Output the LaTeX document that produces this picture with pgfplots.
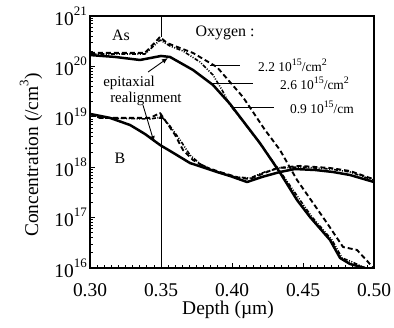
\documentclass[border=0pt]{standalone}
\usepackage{fontspec}
\setmainfont{Liberation Serif}
\usepackage{pgfplots}
\pgfplotsset{compat=1.18}
\usetikzlibrary{arrows.meta}
\newcommand{\sups}[1]{\raisebox{0.5em}{\fontsize{13}{13}\selectfont #1}}
\newcommand{\lsup}[1]{\raisebox{0.45em}{\fontsize{10}{10}\selectfont #1}}

\begin{document}
\begin{tikzpicture}[font=\fontsize{19.5}{22}\selectfont]
\begin{axis}[
 scale only axis, width=284bp, height=252bp,
 xmin=0.3, xmax=0.5, ymin=1e16, ymax=1e21, ymode=log,
 axis line style={line width=1.3pt},
 xtick={0.30,0.35,0.40,0.45,0.50},
 xticklabels={0.30,0.35,0.40,0.45,0.50},
 minor x tick num=9,
 ytick={1e16,1e17,1e18,1e19,1e20,1e21},
 yticklabels={10\sups{16},10\sups{17},10\sups{18},10\sups{19},10\sups{20},10\sups{21}},
 xtick pos=bottom, ytick pos=left, tick align=inside,
 major tick length=5bp, minor tick length=3bp,
 tick style={line width=0.8pt,black},
 xticklabel style={anchor=base, yshift=-29bp, inner sep=0pt},
 yticklabel style={anchor=east, xshift=-3bp, inner sep=0pt},
 xlabel={Depth (µm)}, ylabel={Concentration (/cm\sups{3})},
 xlabel style={at={(axis description cs:0.486,-0.1865)}, anchor=base, inner sep=0pt},
 ylabel style={at={(axis description cs:-0.183,0.448)}, anchor=base, inner sep=0pt},
 clip mode=individual,
 every axis plot/.append style={line join=round, black},
]
% As, solid
\addplot[line width=2.5pt] coordinates {
(0.3000,1.68e20)(0.3176,1.54e20)(0.3352,1.34e20)(0.3500,1.61e20)(0.3563,1.54e20)
(0.3725,8.5e19)(0.3866,4.28e19)(0.3986,1.8e19)(0.4197,3.0e18)(0.4338,7.8e17)
(0.4458,2.23e17)(0.4549,1.03e17)(0.4690,3.6e16)(0.4761,1.58e16)(0.4831,1.2e16)(0.4937,1.0e16)};
% As, dashed
\addplot[line width=1.9pt, dash pattern=on 5pt off 3pt] coordinates {
(0.3000,1.85e20)(0.3387,1.85e20)(0.3493,3.83e20)(0.3542,2.91e20)(0.3725,1.85e20)
(0.3894,9.7e19)(0.4077,2.47e19)(0.4232,5.5e18)(0.4338,2.19e18)(0.4458,5.57e17)
(0.4669,7.8e16)(0.4782,2.61e16)(0.4880,2.28e16)(0.4958,1.32e16)(0.4993,1.0e16)};
% As, dash-dot
\addplot[line width=1.6pt, dash pattern=on 4pt off 1.5pt on 1pt off 1.5pt on 1pt off 1.5pt] coordinates {
(0.3000,1.76e20)(0.3387,1.76e20)(0.3493,3.34e20)(0.3563,2.54e20)(0.3655,2.02e20)
(0.3775,1.22e20)(0.3866,6.75e19)(0.3930,3.40e19)(0.3986,1.71e19)(0.4070,8.6e18)
(0.4211,2.6e18)(0.4352,7.3e17)(0.4479,2.23e17)(0.4563,1.03e17)(0.4704,3.6e16)
(0.4775,1.58e16)(0.4845,1.32e16)(0.4937,1.0e16)};
% B, solid
\addplot[line width=2.5pt] coordinates {
(0.3000,1.14e19)(0.3141,9.5e18)(0.3282,6.87e18)(0.3387,4.56e18)(0.3493,2.76e18)
(0.3599,1.83e18)(0.3704,1.21e18)(0.3810,9.64e17)(0.3894,8.03e17)(0.3986,6.69e17)
(0.4106,5.08e17)(0.4211,6.40e17)(0.4338,8.03e17)(0.4444,9.2e17)(0.4585,8.8e17)
(0.4711,8.03e17)(0.4831,7.0e17)(0.5000,5.08e17)};
% B, dashed
\addplot[line width=1.9pt, dash pattern=on 5pt off 3pt] coordinates {
(0.3000,1.14e19)(0.3070,9.5e18)(0.3423,9.5e18)(0.3493,1.19e19)(0.3542,7.53e18)
(0.3599,4.36e18)(0.3655,2.19e18)(0.3725,1.39e18)(0.3810,1.01e18)(0.3915,8.03e17)
(0.4056,6.1e17)(0.4127,5.83e17)(0.4211,7.33e17)(0.4317,9.64e17)(0.4479,1.06e18)
(0.4690,9.64e17)(0.4831,8.4e17)(0.4993,5.83e17)};
% B, dash-dot
\addplot[line width=1.6pt, dash pattern=on 4pt off 1.5pt on 1pt off 1.5pt on 1pt off 1.5pt] coordinates {
(0.3000,1.14e19)(0.3070,9.5e18)(0.3423,9.04e18)(0.3507,9.9e18)(0.3563,6.57e18)
(0.3634,3.47e18)(0.3704,1.75e18)(0.3775,1.16e18)(0.3880,8.4e17)(0.4021,6.4e17)
(0.4127,6.1e17)(0.4232,8.03e17)(0.4338,9.64e17)(0.4479,1.01e18)(0.4690,9.2e17)
(0.4831,8.03e17)(0.4993,5.57e17)};

% vertical marker at 0.35
\draw[line width=0.9pt] (axis cs:0.35,1e21) -- (axis cs:0.35,3.83e20);
\draw[line width=0.9pt, {Latex[length=6pt,width=5pt]}-] (axis cs:0.35,1.19e19) -- (axis cs:0.35,1e16);
% epitaxial realignment arrows
\draw[line width=0.9pt, -{Latex[length=6pt,width=5pt]}] (axis cs:0.3409,7.74e19) -- (axis cs:0.3549,1.47e20);
\draw[line width=0.9pt, -{Latex[length=6pt,width=5pt]}] (axis cs:0.3373,1.71e19) -- (axis cs:0.3451,3.16e18);
% legend lines
\draw[line width=0.8pt] (axis cs:0.3845,1.07e20) -- (axis cs:0.4056,1.07e20);
\draw[line width=0.8pt] (axis cs:0.3866,4.69e19) -- (axis cs:0.4148,4.69e19);
\draw[line width=0.8pt] (axis cs:0.4000,1.56e19) -- (axis cs:0.4296,1.56e19);

\node[font=\fontsize{16}{18}\selectfont] at (axis cs:0.3218,4.2e20) {As};
\node[font=\fontsize{16}{18}\selectfont] at (axis cs:0.3951,4.6e20) {Oxygen :};
\node[font=\fontsize{16}{18}\selectfont] at (axis cs:0.3211,1.52e18) {B};
\node[font=\fontsize{15}{17}\selectfont] at (axis cs:0.3275,4.69e19) {epitaxial};
\node[font=\fontsize{15}{17}\selectfont] at (axis cs:0.3394,2.25e19) {realignment};
\node[font=\fontsize{13.5}{15}\selectfont, anchor=west, inner sep=0pt] at (axis cs:0.4183,1.07e20) {2.2 10\lsup{15}/cm\lsup{2}};
\node[font=\fontsize{13.5}{15}\selectfont, anchor=west, inner sep=0pt] at (axis cs:0.4338,4.69e19) {2.6 10\lsup{15}/cm\lsup{2}};
\node[font=\fontsize{13.5}{15}\selectfont, anchor=west, inner sep=0pt] at (axis cs:0.4408,1.56e19) {0.9 10\lsup{15}/cm};
\end{axis}
\pgfresetboundingbox
\path[use as bounding box] (-90bp,-60bp) rectangle (304bp,268bp);
\end{tikzpicture}
\end{document}
